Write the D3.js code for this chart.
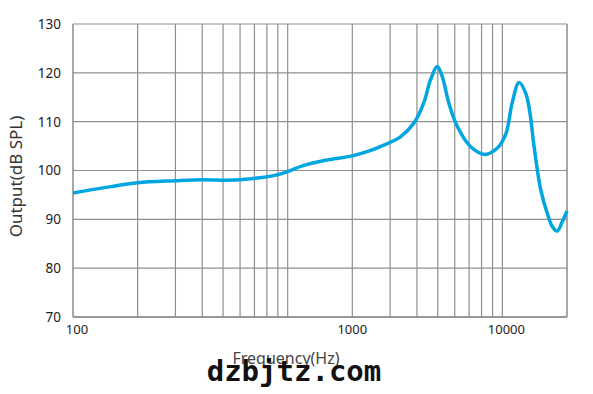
<!DOCTYPE html>
<html>
<head>
<meta charset="utf-8">
<script src="https://cdn.jsdelivr.net/npm/d3@7"></script>
<style>
  body { margin: 0; background: #fff; }
  text { font-family: 'Noto Sans', 'Open Sans', sans-serif; }
</style>
</head>
<body>
<div id="chart"></div>
<script>
// frequency response
const freqs = [100, 150, 200, 300, 400, 520, 600, 740, 890, 1000, 1180, 1500, 2000, 2400, 2700,
  3350, 3870, 4300, 4630, 4970, 5250, 5630, 6170, 7100, 8270, 9480, 10400, 11100, 11950,
  12850, 13450, 14050, 15100, 16200, 17100, 18000, 19000, 20000]
const spl = [95.4, 96.7, 97.5, 97.9, 98.1, 98.0, 98.1, 98.5, 99.1, 99.8, 101.0, 102.1, 103.0, 104.0, 104.9,
  106.9, 109.7, 113.8, 118.6, 121.3, 119.2, 113.8, 109.0, 104.9, 103.3, 104.6, 107.6, 113.8, 118.0,
  115.8, 111.7, 104.9, 96.0, 91.2, 88.5, 87.6, 89.5, 91.7]

const yTicks = [70, 80, 90, 100, 110, 120, 130]
const xLabels = ['100', '1000', '10000']
const xLabelAt = [100, 2000, 10000] // where the source chart put its labels
const gridFreqs = [200, 300, 400, 500, 600, 700, 800, 900, 1000,
  2000, 3000, 4000, 5000, 6000, 7000, 8000, 9000, 10000]

const margin = { top: 24, right: 26, bottom: 77, left: 73 }
const width = 593 - margin.left - margin.right
const height = 394 - margin.top - margin.bottom

const svg = d3
  .select('#chart')
  .append('svg')
  .attr('width', 593)
  .attr('height', 394)

const g = svg.append('g')
  .attr('transform', `translate(${margin.left},${margin.top})`)

const x = d3.scaleLog().domain([100, 20000]).range([0, width])
const y = d3.scaleLinear().domain([70, 130]).range([height, 0])

// grid
g.selectAll('.vgrid')
  .data(gridFreqs)
  .enter()
  .append('line')
  .attr('x1', d => x(d))
  .attr('x2', d => x(d))
  .attr('y1', 0)
  .attr('y2', height)
  .attr('stroke', '#8f8f8f')
  .attr('stroke-width', 1.2)

g.selectAll('.hgrid')
  .data(yTicks)
  .enter()
  .append('line')
  .attr('x1', 0)
  .attr('x2', width)
  .attr('y1', d => y(d))
  .attr('y2', d => y(d))
  .attr('stroke', '#8f8f8f')
  .attr('stroke-width', 1.2)

// frame sides
g.append('line').attr('x1', 0).attr('x2', 0).attr('y1', 0).attr('y2', height)
  .attr('stroke', '#8a8a8a').attr('stroke-width', 1.5)
g.append('line').attr('x1', width).attr('x2', width).attr('y1', 0).attr('y2', height)
  .attr('stroke', '#8a8a8a').attr('stroke-width', 1.5)
g.append('line').attr('x1', 0).attr('x2', width).attr('y1', height).attr('y2', height)
  .attr('stroke', '#8a8a8a').attr('stroke-width', 1.5)

// y tick labels
g.selectAll('.ylab')
  .data(yTicks)
  .enter()
  .append('text')
  .attr('x', -12)
  .attr('y', d => y(d))
  .attr('dy', '0.36em')
  .attr('text-anchor', 'end')
  .attr('font-size', 13.5)
  .attr('fill', '#222')
  .text(d => d)

// x tick labels (the end labels sit a little right of their line)
g.selectAll('.xlab')
  .data(xLabels)
  .enter()
  .append('text')
  .attr('x', (d, i) => x(xLabelAt[i]) + (i === 1 ? 0 : 4))
  .attr('y', height + 17)
  .attr('text-anchor', 'middle')
  .attr('font-size', 13)
  .attr('fill', '#222')
  .text(d => d)

// curve
const line = d3.line()
  .x((d, i) => x(freqs[i]))
  .y(d => y(d))
  .curve(d3.curveCatmullRom.alpha(0.5))

g.append('path')
  .datum(spl)
  .attr('d', line)
  .attr('fill', 'none')
  .attr('stroke', '#00a6df')
  .attr('stroke-width', 3.5)
  .attr('stroke-linejoin', 'round')

// axis titles
svg.append('text')
  .attr('transform', `translate(22,${margin.top + height / 2 + 6}) rotate(-90)`)
  .attr('text-anchor', 'middle')
  .attr('font-size', 17)
  .attr('fill', '#333')
  .text('Output(dB SPL)')

svg.append('text')
  .attr('x', 286)
  .attr('y', 364)
  .attr('text-anchor', 'middle')
  .attr('font-size', 16)
  .attr('fill', '#444')
  .text('Frequency(Hz)')

// watermark
svg.append('text')
  .attr('x', 294)
  .attr('y', 381)
  .attr('text-anchor', 'middle')
  .attr('font-size', 29)
  .attr('font-weight', 'bold')
  .style('font-family', "'DejaVu Sans Mono', monospace")
  .attr('fill', '#111')
  .text('dzbjtz.com')
</script>
</body>
</html>
